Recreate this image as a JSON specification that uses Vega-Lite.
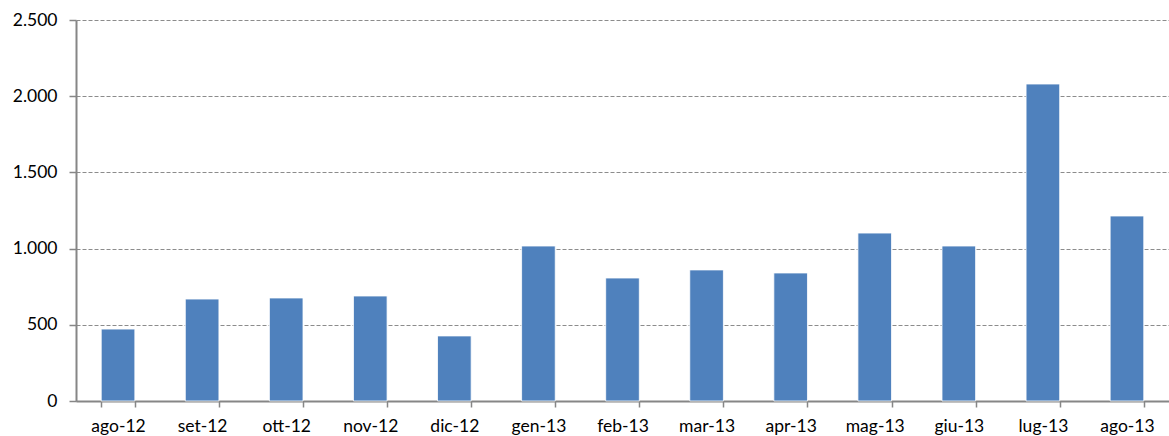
{
  "$schema": "https://vega.github.io/schema/vega-lite/v6.json",
  "autosize": {"type": "none"},
  "padding": {"left": 76, "top": 20, "right": 0, "bottom": 35},
  "width": 1093,
  "height": 381,
  "background": "white",
  "data": {"values": [
    {"mese": "ago-12", "valore": 472},
    {"mese": "set-12", "valore": 669},
    {"mese": "ott-12", "valore": 676},
    {"mese": "nov-12", "valore": 689},
    {"mese": "dic-12", "valore": 427},
    {"mese": "gen-13", "valore": 1017},
    {"mese": "feb-13", "valore": 807},
    {"mese": "mar-13", "valore": 860},
    {"mese": "apr-13", "valore": 840},
    {"mese": "mag-13", "valore": 1102},
    {"mese": "giu-13", "valore": 1017},
    {"mese": "lug-13", "valore": 2080},
    {"mese": "ago-13", "valore": 1214}
  ]},
  "mark": {"type": "bar", "color": "#4F81BD", "stroke": "#ffffff", "strokeWidth": 0.8},
  "encoding": {
    "x": {
      "field": "mese", "type": "nominal", "sort": null,
      "scale": {"paddingInner": 0.6, "paddingOuter": 0.3},
      "axis": {
        "title": null, "labelAngle": 0, "tickBand": "extent", "grid": false,
        "domainColor": "#868686", "domainWidth": 2, "tickColor": "#868686", "tickWidth": 1.5, "tickSize": 6,
        "labelFont": "Lato", "labelFontSize": 17.5, "labelColor": "#000000", "labelPadding": 10
      }
    },
    "y": {
      "field": "valore", "type": "quantitative",
      "scale": {"domain": [0, 2500], "nice": false},
      "axis": {
        "title": null, "values": [0, 500, 1000, 1500, 2000, 2500],
        "labelExpr": "replace(format(datum.value, ','), ',', '.')",
        "grid": true, "gridColor": "#8c8c8c", "gridDash": [4, 2], "gridWidth": 1,
        "domainColor": "#868686", "domainWidth": 2, "tickColor": "#868686", "tickWidth": 1.5, "tickSize": 7,
        "labelFont": "Lato", "labelFontSize": 17.5, "labelColor": "#000000", "labelPadding": 12
      }
    }
  },
  "config": {"view": {"stroke": null}}
}
